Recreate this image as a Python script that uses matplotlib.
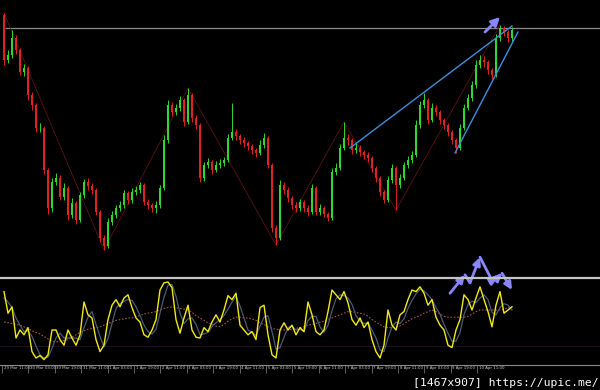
import numpy as np
import matplotlib
matplotlib.use('Agg')
import matplotlib.pyplot as plt
from matplotlib.lines import Line2D
import matplotlib.transforms as mtransforms

# price candles (one per bar, oldest first)
first_open = 285
closes = [240, 245, 262, 250, 228, 232, 205, 195,
          172, 172, 130, 92, 118, 122, 103, 112,
          85, 97, 80, 105, 118, 114, 110, 88,
          62, 54, 78, 85, 92, 95, 107, 100,
          108, 110, 115, 98, 95, 92, 95, 112,
          160, 195, 188, 192, 200, 178, 205, 182,
          175, 122, 135, 138, 130, 135, 137, 140,
          162, 168, 164, 160, 157, 154, 150, 147,
          155, 162, 135, 72, 62, 115, 110, 102,
          95, 92, 98, 92, 88, 112, 88, 92,
          86, 82, 128, 132, 152, 162, 160, 150,
          152, 148, 145, 142, 132, 122, 108, 100,
          120, 132, 115, 122, 135, 140, 145, 175,
          195, 200, 180, 192, 188, 180, 175, 168,
          160, 152, 172, 192, 202, 215, 235, 240,
          238, 230, 225, 262, 272, 268, 262, 270]
highs = [287, 250, 270, 265, 252, 236, 234, 208,
         197, 177, 174, 132, 122, 127, 125, 117,
         114, 102, 99, 108, 121, 122, 117, 112,
         90, 65, 82, 89, 95, 99, 110, 109,
         112, 114, 118, 117, 101, 97, 99, 115,
         165, 200, 198, 196, 204, 202, 212, 207,
         185, 177, 138, 142, 140, 139, 141, 143,
         166, 197, 171, 166, 163, 159, 156, 152,
         160, 167, 164, 137, 75, 120, 118, 113,
         104, 98, 101, 100, 95, 116, 114, 96,
         94, 88, 132, 137, 156, 178, 166, 162,
         157, 155, 150, 148, 144, 134, 124, 110,
         124, 136, 134, 126, 138, 144, 149, 180,
         199, 207, 202, 197, 195, 190, 182, 177,
         170, 162, 176, 196, 206, 219, 240, 245,
         244, 240, 232, 266, 275, 274, 270, 273]
lows = [235, 237, 242, 246, 225, 224, 200, 190,
        168, 168, 126, 86, 88, 115, 100, 100,
        80, 82, 76, 78, 102, 110, 106, 85,
        58, 50, 52, 75, 82, 89, 92, 96,
        97, 105, 107, 95, 91, 88, 87, 92,
        110, 157, 184, 185, 189, 174, 176, 178,
        171, 118, 119, 132, 126, 128, 132, 134,
        138, 160, 160, 156, 153, 150, 146, 143,
        145, 152, 132, 68, 55, 60, 106, 98,
        91, 88, 89, 88, 84, 86, 85, 85,
        83, 79, 80, 125, 130, 150, 155, 146,
        147, 144, 141, 138, 128, 118, 104, 97,
        98, 117, 90, 112, 120, 132, 137, 143,
        172, 192, 176, 178, 184, 176, 171, 164,
        156, 147, 150, 170, 190, 199, 212, 232,
        233, 226, 221, 223, 259, 264, 258, 259]

resistance = 272
zigzag_idx = [0, 25, 46, 68, 85, 98, 124]
channel_upper = [(86.5, 152), (127.0, 274)]
channel_lower = [(112.75, 147), (128.5, 268)]
arrow_top = [(120.25, 268), (124.0, 283)]

# oscillator pane
stoch_main = [88, 61, 69, 30, 40, 34, 43, 13,
              5, 8, 3, 9, 40, 40, 28, 21,
              40, 30, 21, 34, 75, 59, 55, 28,
              13, 21, 53, 71, 78, 69, 80, 84,
              68, 55, 50, 34, 31, 40, 53, 90,
              99, 100, 93, 53, 36, 55, 71, 40,
              31, 30, 43, 38, 50, 59, 50, 65,
              83, 78, 86, 46, 40, 34, 38, 28,
              68, 71, 34, 9, 5, 40, 49, 40,
              46, 34, 43, 38, 75, 59, 38, 34,
              40, 63, 90, 84, 78, 88, 74, 53,
              46, 55, 43, 50, 28, 13, 5, 21,
              65, 46, 40, 59, 63, 78, 90, 88,
              94, 86, 71, 78, 56, 46, 40, 21,
              18, 40, 53, 84, 78, 65, 80, 94,
              78, 63, 44, 71, 88, 61, 65, 69]
stoch_signal = [80, 75, 68, 55, 46, 38, 39, 32,
                20, 9, 5, 6, 17, 30, 36, 30,
                30, 30, 30, 28, 43, 56, 63, 47,
                32, 19, 29, 48, 67, 73, 76, 78,
                77, 69, 58, 46, 38, 35, 41, 61,
                81, 96, 97, 82, 61, 48, 54, 55,
                47, 34, 35, 37, 44, 49, 53, 58,
                66, 75, 82, 70, 55, 40, 37, 33,
                45, 56, 58, 38, 16, 18, 31, 43,
                45, 40, 41, 38, 52, 57, 57, 44,
                37, 46, 64, 79, 84, 83, 80, 72,
                58, 51, 48, 49, 40, 30, 15, 13,
                30, 44, 50, 48, 54, 67, 77, 85,
                91, 89, 84, 78, 68, 60, 47, 36,
                26, 26, 37, 59, 72, 76, 74, 80,
                84, 78, 62, 59, 68, 73, 71, 65]
stoch_slow = [50, 49, 48, 47, 46, 44, 42, 39,
              37, 35, 32, 29, 26, 25, 26, 27,
              28, 31, 34, 37, 39, 41, 42, 43,
              44, 46, 48, 50, 52, 53, 54, 55,
              55, 57, 58, 60, 61, 62, 63, 65,
              67, 68, 69, 68, 67, 66, 65, 62,
              58, 55, 52, 49, 47, 45, 44, 47,
              51, 54, 56, 56, 55, 55, 54, 52,
              49, 47, 44, 42, 41, 40, 40, 40,
              41, 42, 43, 44, 46, 47, 48, 50,
              51, 53, 55, 57, 59, 61, 63, 63,
              62, 61, 60, 57, 53, 50, 47, 44,
              43, 43, 44, 45, 48, 51, 54, 56,
              58, 61, 63, 65, 63, 60, 57, 56,
              56, 56, 56, 56, 57, 60, 63, 65,
              65, 65, 65, 65, 65, 66, 68, 69]
osc_level = 20
arrow_osc = [(111.5, 86), (115.25, 109), (116.5, 99), (119.0, 131),
             (122.0, 102), (123.5, 106), (124.5, 111), (127.0, 90)]

time_labels = ['29 Mar 11:00', '30 Mar 03:00', '30 Mar 19:00', '31 Mar 11:00',
               '1 Apr 03:00', '1 Apr 19:00', '2 Apr 11:00', '3 Apr 03:00',
               '3 Apr 19:00', '4 Apr 11:00', '5 Apr 03:00', '5 Apr 19:00',
               '6 Apr 11:00', '7 Apr 03:00', '7 Apr 19:00', '8 Apr 11:00',
               '9 Apr 03:00', '9 Apr 19:00', '10 Apr 11:00']

W, H = 600, 390
fig = plt.figure(figsize=(W / 100, H / 100), dpi=100, facecolor='black')

ax = fig.add_axes([0, (H - 276) / H, 1, 276 / H], facecolor='black')
ax2 = fig.add_axes([0, 25 / H, 1, 85 / H], facecolor='black')
for a in (ax, ax2):
    a.set_xlim(-1, 149)
    for s in a.spines.values():
        s.set_visible(False)
ax.set_ylim(24, 300)
ax2.set_ylim(-3.75, 102.5)
ax.set_xticks([])
ax.set_yticks([])
ax2.set_yticks([])

# candles
c = np.array(closes, float)
hi = np.array(highs, float)
lo = np.array(lows, float)
o = np.r_[first_open, c[:-1]]
idx = np.arange(len(c))
col = np.where(c >= o, '#2ed82e', '#e02222')
ax.vlines(idx, lo, hi, colors=col, lw=0.7, zorder=3)
ax.bar(idx, c - o, bottom=o, width=0.55, color=col, lw=0, zorder=3)

ax.hlines(resistance, 0.25, 149, color='#8a8a8a', lw=0.9, zorder=2)

# zigzag through swing points
zz_y = [hi[i] if n % 2 == 0 else lo[i] for n, i in enumerate(zigzag_idx)]
ax.plot(zigzag_idx, zz_y, color='#5a1414', lw=0.6, zorder=2)

for line in (channel_upper, channel_lower):
    xs, ys = zip(*line)
    ax.plot(xs, ys, color='#3f8fdc', lw=1.0, zorder=4)

ax.annotate('', xy=arrow_top[1], xytext=arrow_top[0],
            arrowprops=dict(arrowstyle='-|>,head_length=0.5,head_width=0.25',
                            color='#8a86ff', lw=2, shrinkA=0, shrinkB=0))

# pane separator
fig.add_artist(Line2D([0, 1], [(H - 278) / H] * 2, transform=fig.transFigure,
                      color='#c4c4c4', lw=1.6))

# oscillator
ax2.axhline(osc_level, color='#2a1028', lw=0.6)
ax2.plot(idx, stoch_slow, color='#a85050', lw=0.8, ls=(0, (1.5, 1.5)))
ax2.plot(idx, stoch_signal, color='#4c5c72', lw=0.9)
ax2.plot(idx, stoch_main, color='#f2ea1a', lw=1.0)

for (x0, y0), (x1, y1) in zip(arrow_osc[:-1], arrow_osc[1:]):
    style = '-|>,head_length=0.45,head_width=0.22' if y1 > y0 or (x1, y1) == arrow_osc[-1] else '-'
    ax2.annotate('', xy=(x1, y1), xytext=(x0, y0), annotation_clip=False,
                 arrowprops=dict(arrowstyle=style, color='#8a86ff', lw=2,
                                 shrinkA=0, shrinkB=0, clip_on=False))

# time axis
ax2.spines['bottom'].set_visible(True)
ax2.spines['bottom'].set_color('#8a8a8a')
ax2.spines['bottom'].set_linewidth(0.8)
tick_pos = np.arange(len(time_labels)) * 6.6 - 0.5
ax2.set_xticks(tick_pos)
ax2.set_xticklabels(time_labels, fontsize=2.8, color='#d0d0d0', ha='left')
ax2.tick_params(axis='x', direction='out', length=5.5, width=0.5,
                color='#8a8a8a', pad=-5)
offset = mtransforms.ScaledTranslation(1.5 / 100, 0, fig.dpi_scale_trans)
for lab in ax2.get_xticklabels():
    lab.set_transform(lab.get_transform() + offset)

fig.text(0.997, 0.005, '[1467x907] https://upic.me/', color='white',
         fontsize=8.2, family='DejaVu Sans Mono', ha='right', va='bottom')

fig.savefig('out.png', dpi=100, facecolor='black')
